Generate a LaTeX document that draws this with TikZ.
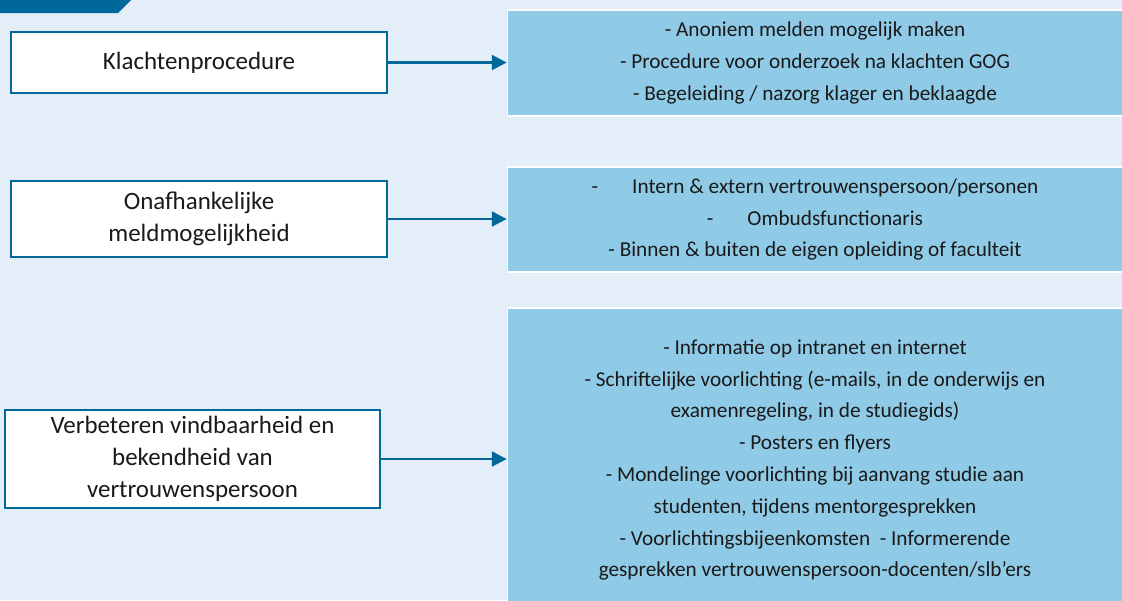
\documentclass[tikz,border=0pt]{standalone}
\usepackage{fontspec}
\setmainfont{Carlito}
\usepackage{xcolor}
\usetikzlibrary{arrows.meta, positioning}

\definecolor{rijksblauw}{HTML}{01689B}
\definecolor{lichtblauw}{HTML}{8FCAE7}
\definecolor{achtergrond}{HTML}{E4EEF8}
\definecolor{tekst}{HTML}{1A1A1A}

\begin{document}
\begin{tikzpicture}[
  x=0.02cm, y=-0.02cm, text=tekst,
  maatregel/.style={rectangle, draw=rijksblauw, line width=1pt, fill=white, align=center, inner sep=2pt, font=\fontsize{14.2}{18.4}\selectfont},
  uitwerking/.style={rectangle, draw=white, line width=1pt, fill=lichtblauw, align=center, inner sep=2pt, font=\fontsize{12.1}{18.1}\selectfont},
  pijl/.style={draw=rijksblauw, line width=1.5pt, -{Triangle[length=8.5pt, width=8.5pt]}}
]

% achtergrond en tab
\fill[achtergrond] (0,0) rectangle (1122,600);
\useasboundingbox (0,0) rectangle (1122,600);
\fill[rijksblauw] (0,0) -- (131,0) -- (118,13) -- (0,13) -- cycle;

% maatregelen links
\node[maatregel, minimum width=7.52cm, minimum height=1.22cm] (klacht) at (199,62.5) {Klachtenprocedure};
\node[maatregel, minimum width=7.52cm, minimum height=1.52cm] (meld) at (199,219) {Onafhankelijke\\meldmogelijkheid};
\node[maatregel, minimum width=7.5cm, minimum height=1.96cm] (vind) at (192.5,459) {Verbeteren vindbaarheid en\\bekendheid van\\vertrouwenspersoon};

% uitwerking rechts
\node[uitwerking, minimum width=12.3cm, minimum height=2.12cm] (anoniem) at (815,63) {- Anoniem melden mogelijk maken\\- Procedure voor onderzoek na klachten GOG\\- Begeleiding / nazorg klager en beklaagde};
\node[uitwerking, minimum width=12.3cm, minimum height=2.1cm] (vertrouw) at (815,219.5) {-\hspace{1.6em}Intern \& extern vertrouwenspersoon/personen\\-\hspace{1.6em}Ombudsfunctionaris\\- Binnen \& buiten de eigen opleiding of faculteit};
\node[uitwerking, minimum width=12.3cm, minimum height=6.08cm] (info) at (815,460) {- Informatie op intranet en internet\\- Schriftelijke voorlichting (e-mails, in de onderwijs en\\examenregeling, in de studiegids)\\- Posters en flyers\\- Mondelinge voorlichting bij aanvang studie aan\\studenten, tijdens mentorgesprekken\\- Voorlichtingsbijeenkomsten\ \ - Informerende\\gesprekken vertrouwenspersoon-docenten/slb’ers};

\draw[pijl] (klacht) -- (anoniem.west |- klacht);
\draw[pijl] (meld) -- (vertrouw.west |- meld);
\draw[pijl] (vind) -- (info.west |- vind);

\end{tikzpicture}
\end{document}
